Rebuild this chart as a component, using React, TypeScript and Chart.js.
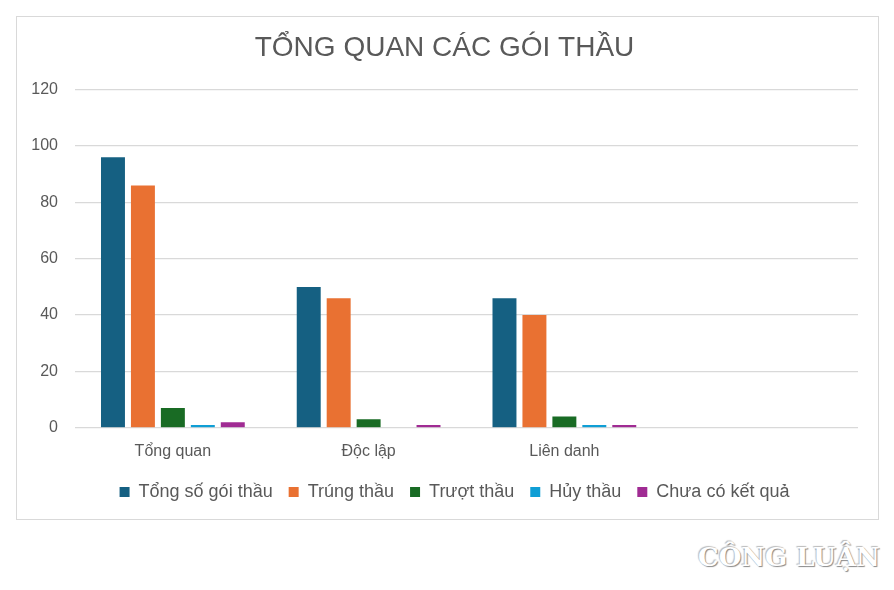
import React, { useEffect, useRef } from "react";
import { Chart, registerables } from "chart.js";

Chart.register(...registerables);

const categories = ["Tổng quan", "Độc lập", "Liên danh", ""];
const tongSo = [96, 50, 46, null];
const trungThau = [86, 46, 40, null];
const truotThau = [7, 3, 4, null];
const huyThau = [1, 0, 1, null];
const chuaCoKetQua = [2, 1, 1, null];
const yTicks = [0, 20, 40, 60, 80, 100, 120];

const seriesNames = ["Tổng số gói thầu", "Trúng thầu", "Trượt thầu", "Hủy thầu", "Chưa có kết quả"];
const seriesColors = ["#156082", "#E97132", "#196B24", "#0F9ED5", "#A02B93"];

const legendShift = {
  id: "legendShift",
  afterLayout(chart: any) {
    if (chart.legend) {
      chart.legend.left += 10;
      chart.legend.right += 10;
    }
  },
};

export default function App() {
  const ref = useRef<HTMLCanvasElement>(null);
  useEffect(() => {
    if (!ref.current) return;
    const all = [tongSo, trungThau, truotThau, huyThau, chuaCoKetQua];
    const chart = new Chart(ref.current, {
      type: "bar",
      data: {
        labels: categories,
        datasets: all.map((d, i) => ({
          label: seriesNames[i],
          data: d,
          backgroundColor: seriesColors[i],
          barPercentage: 0.8,
          categoryPercentage: 0.765,
        })),
      },
      plugins: [legendShift],
      options: {
        animation: false,
        responsive: false,
        maintainAspectRatio: false,
        layout: { padding: { left: 14, right: 20, top: 0, bottom: 8 } },
        plugins: {
          title: {
            display: true,
            text: "TỔNG QUAN CÁC GÓI THẦU",
            color: "#595959",
            font: { family: "'Liberation Sans', Arial, sans-serif", size: 28, weight: "normal" },
            padding: { top: 14, bottom: 25 },
          },
          legend: {
            position: "bottom",
            labels: {
              color: "#595959",
              boxWidth: 10,
              boxHeight: 10,
              padding: 16,
              font: { family: "'Liberation Sans', Arial, sans-serif", size: 18 },
            },
          },
          tooltip: { enabled: false },
        },
        scales: {
          x: {
            grid: { display: false },
            border: { display: false },
            ticks: {
              color: "#595959",
              font: { family: "'Liberation Sans', Arial, sans-serif", size: 16 },
              padding: 6,
            },
          },
          y: {
            min: 0,
            max: 120,
            afterBuildTicks: (axis: any) => {
              axis.ticks = yTicks.map((v) => ({ value: v }));
            },
            afterFit: (axis: any) => {
              axis.width = 44;
            },
            grid: { color: "#d9d9d9", lineWidth: 1.3, drawTicks: false },
            border: { display: false },
            ticks: {
              color: "#595959",
              padding: 17,
              font: { family: "'Liberation Sans', Arial, sans-serif", size: 16 },
            },
          },
        },
      },
    });
    return () => chart.destroy();
  }, []);

  return (
    <div style={{ position: "relative", width: 878, height: 574 }}>
      <div
        style={{
          position: "absolute",
          left: 8,
          top: 8,
          width: 861,
          height: 502,
          border: "1px solid #d9d9d9",
          background: "#fff",
        }}
      >
        <canvas ref={ref} width={861} height={502} style={{ display: "block" }} />
      </div>
      <div
        style={{
          position: "absolute",
          left: 690,
          top: 534,
          fontFamily: "'DejaVu Serif', serif",
          fontWeight: "bold",
          fontSize: 26,
          letterSpacing: 0,
          color: "#ffffff",
          textShadow: "1px 1px 1px #888, -1px -1px 1px #bbb",
        }}
      >
        CÔNG LUẬN
      </div>
    </div>
  );
}
